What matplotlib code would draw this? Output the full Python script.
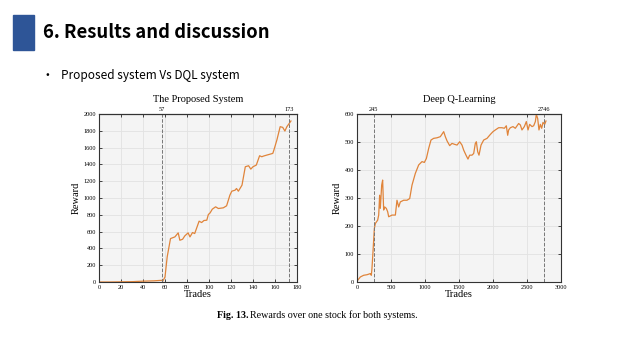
import numpy as np
import matplotlib.pyplot as plt

# data
prop_x = [0, 10, 20, 30, 40, 50, 57, 58, 60, 62, 65, 69, 72, 73.5, 76, 78, 81, 82.7, 85, 87, 91, 93.3,
          95.4, 98, 99.4, 101, 103, 106, 108.5, 113, 116, 119, 120.7, 123.7, 125, 126.7, 130, 133,
          136, 138, 140, 143, 146, 148, 149.5, 152.6, 158, 159, 161.7, 164.7, 167, 169, 170.8, 173, 174.5]
prop_y = [0, 0, 2, 4, 10, 14, 20, 10, 60, 300, 517, 537, 585, 497, 509, 549, 585, 537, 589, 577, 724, 708,
          732, 736, 803, 823, 867, 895, 875, 883, 907, 1034, 1081, 1093, 1113, 1081, 1153, 1372,
          1384, 1344, 1372, 1392, 1503, 1491, 1499, 1511, 1531, 1571, 1690, 1849, 1841, 1797, 1849, 1889, 1917]

dql_x = [0, 10, 49, 98, 147, 196, 211, 220, 235, 255, 270, 304, 319, 333, 343, 363, 377, 392, 407, 431,
         451, 466, 515, 564, 588, 613, 637, 686, 735, 775, 809, 858, 907, 956, 990, 1020, 1054, 1088,
         1127, 1176, 1225, 1275, 1299, 1324, 1363, 1397, 1431, 1471, 1510, 1544, 1569, 1603, 1632,
         1657, 1691, 1716, 1740, 1755, 1775, 1794, 1824, 1863, 1912, 1961, 2000, 2034, 2083, 2132,
         2167, 2196, 2216, 2230, 2255, 2294, 2328, 2377, 2402, 2426, 2461, 2490, 2515, 2539, 2574,
         2598, 2623, 2637, 2657, 2676, 2696, 2716, 2735, 2760, 2779]
dql_y = [0, 6, 18, 24, 26, 30, 24, 48, 107, 191, 209, 221, 239, 310, 263, 346, 364, 257, 268, 263,
         251, 233, 239, 239, 292, 268, 286, 292, 292, 298, 346, 388, 418, 430, 427, 441, 477, 507,
         513, 515, 519, 537, 519, 504, 487, 495, 492, 489, 501, 489, 471, 453, 439,
         453, 453, 459, 495, 501, 465, 453, 489, 507, 513, 527, 537, 543, 551, 551,
         549, 558, 524, 543, 551, 555, 549, 566, 561, 543, 555, 573, 543, 563, 555,
         558, 573, 599, 584, 543, 563, 549, 570, 563, 575]

prop_marks = [57, 173]
dql_marks = [245, 2746]

line_col = '#e0843a'
serif = ['Liberation Serif', 'DejaVu Serif']
slide_font = ['Noto Sans CJK KR', 'DejaVu Sans']

fig = plt.figure(figsize=(6.4, 3.6), dpi=100)
fig.patch.set_facecolor('white')

# slide header
fig.patches.append(plt.Rectangle((13/640, 1-50/360), 21/640, 35/360, transform=fig.transFigure,
                                 color='#2e5597', zorder=0))
fig.text(43/640, 1-33/360, '6. Results and discussion', fontsize=13.3, fontweight='bold',
         family=slide_font, va='center', ha='left')
fig.text(45/640, 1-75/360, '•', fontsize=8, family=slide_font, va='center')
fig.text(61/640, 1-75/360, 'Proposed system Vs DQL system', fontsize=8.5, family=slide_font, va='center')


def panel(rect, x, y, marks, title, xlim, ylim, xticks, yticks):
    ax = fig.add_axes(rect)
    ax.set_facecolor('#f4f4f4')
    ax.grid(True, color='#e2e2e2', linewidth=0.6)
    ax.set_axisbelow(True)
    ax.plot(x, y, color=line_col, linewidth=0.9)
    for m in marks:
        ax.axvline(m, color='#777777', linestyle='--', linewidth=0.7)
    ax.set_xlim(xlim)
    ax.set_ylim(ylim)
    ax.set_xticks(xticks)
    ax.set_yticks(yticks)
    ax.tick_params(direction='in', length=2, width=0.5, labelsize=4.5, pad=2, top=True, right=True)
    for lab in ax.get_xticklabels() + ax.get_yticklabels():
        lab.set_family(serif)
    for s in ax.spines.values():
        s.set_linewidth(0.8)
        s.set_color('#333333')
    top = ax.secondary_xaxis('top')
    top.set_xticks(marks)
    top.set_xticklabels([str(m) for m in marks], family=serif)
    top.tick_params(length=0, labelsize=4.5, pad=1.5)
    ax.set_title(title, family=serif, fontsize=7.5, pad=9)
    ax.set_xlabel('Trades', family=serif, fontsize=7.5, labelpad=0)
    ax.set_ylabel('Reward', family=serif, fontsize=7.5, labelpad=2)
    return ax


panel([99/640, 1-282/360, 198/640, 168/360], prop_x, prop_y, prop_marks, 'The Proposed System',
      (0, 180), (0, 2000), range(0, 181, 20), range(0, 2001, 200))
panel([357/640, 1-282/360, 204/640, 168/360], dql_x, dql_y, dql_marks, 'Deep Q-Learning',
      (0, 3000), (0, 600), range(0, 3001, 500), range(0, 601, 100))

fig.text(217/640, 1-315/360, 'Fig. 13.', family=serif, fontsize=7.2, fontweight='bold', va='center')
fig.text(250/640, 1-315/360, 'Rewards over one stock for both systems.', family=serif, fontsize=7.2,
         va='center')

fig.savefig('out.png', dpi=100)
